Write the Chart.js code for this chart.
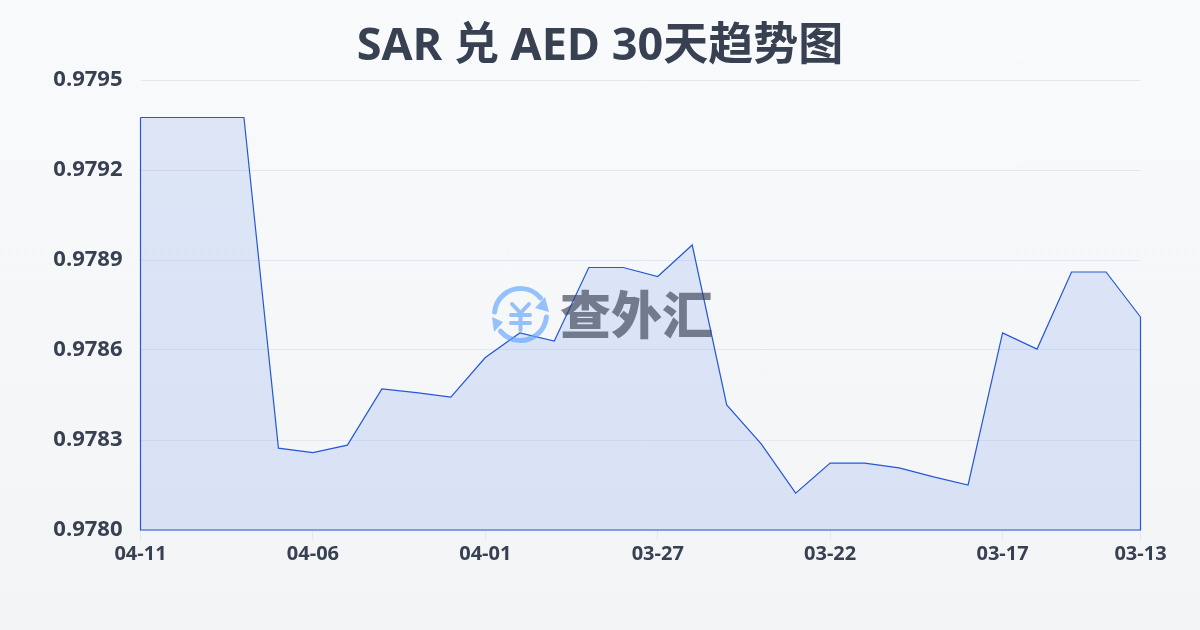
<!DOCTYPE html>
<html>
<head>
<meta charset="utf-8">
<style>
  html, body { margin: 0; padding: 0; }
  body { width: 1200px; height: 630px; background: linear-gradient(180deg, #f9fafb, #f3f4f6); overflow: hidden; }
  canvas { display: block; }
</style>
<script src="https://cdn.jsdelivr.net/npm/chart.js@4/dist/chart.umd.min.js"></script>
</head>
<body>
<canvas id="grafico" width="1200" height="630"></canvas>
<script>
const titulo = 'SAR 兑 AED 30天趋势图';
const marca = '查外汇';

const datas = ['04-11', '04-10', '04-09', '04-08', '04-07', '04-06', '04-05', '04-04', '04-03', '04-02',
  '04-01', '03-31', '03-30', '03-29', '03-28', '03-27', '03-26', '03-25', '03-24', '03-23',
  '03-22', '03-21', '03-20', '03-19', '03-18', '03-17', '03-16', '03-15', '03-14', '03-13'];
const taxas = [0.979375, 0.979375, 0.979375, 0.979375, 0.978273, 0.978258, 0.978283, 0.97847, 0.978458, 0.978443,
  0.978575, 0.978657, 0.97863, 0.978875, 0.978875, 0.978845, 0.97895, 0.978417, 0.978287, 0.978123,
  0.978223, 0.978223, 0.978207, 0.978177, 0.97815, 0.978657, 0.978603, 0.97886, 0.97886, 0.97871];
const rotulosX = ['04-11', '04-06', '04-01', '03-27', '03-22', '03-17', '03-13'];
const eixoMin = 0.978;
const eixoMax = 0.9795;
const eixoPasso = 0.0003;

const corTexto = '#374151';
const corLinha = '#2557d6';
const fonte = '"Open Sans", "Noto Sans CJK SC", sans-serif';

// fecha o contorno da area ate a base
const contorno = {
  id: 'contorno',
  afterDatasetsDraw(chart) {
    const pts = chart.getDatasetMeta(0).data;
    const base = chart.scales.y.getPixelForValue(eixoMin);
    const c = chart.ctx;
    c.save();
    c.strokeStyle = corLinha;
    c.lineWidth = 1.2;
    c.beginPath();
    c.moveTo(pts[0].x, pts[0].y);
    c.lineTo(pts[0].x, base);
    c.lineTo(pts[pts.length - 1].x, base);
    c.lineTo(pts[pts.length - 1].x, pts[pts.length - 1].y);
    c.stroke();
    c.restore();
  }
};

// logo + nome por cima, semi-transparente
const marcaDagua = {
  id: 'marcaDagua',
  afterDatasetsDraw(chart) {
    const c = chart.ctx;
    c.save();
    c.globalAlpha = 0.65;
    c.strokeStyle = '#60a5fa';
    c.fillStyle = '#60a5fa';
    c.lineCap = 'round';
    c.lineWidth = 5;
    const cx = 520.5, cy = 314.5, r = 26;
    c.beginPath(); c.arc(cx, cy, r, Math.PI * 1.03, Math.PI * 1.78); c.stroke();
    c.beginPath(); c.arc(cx, cy, r, Math.PI * 0.03, Math.PI * 0.78); c.stroke();
    c.beginPath(); c.moveTo(545, 297); c.lineTo(549, 312); c.lineTo(535, 308); c.closePath(); c.fill();
    c.beginPath(); c.moveTo(492, 317); c.lineTo(503, 322); c.lineTo(494, 332); c.closePath(); c.fill();
    c.lineWidth = 4;
    c.beginPath();
    c.moveTo(512, 304); c.lineTo(520.5, 313); c.lineTo(529, 304);
    c.moveTo(520.5, 313); c.lineTo(520.5, 330);
    c.moveTo(511, 315); c.lineTo(530, 315);
    c.moveTo(511, 323); c.lineTo(530, 323);
    c.stroke();
    c.fillStyle = '#3a4256';
    c.font = '900 51px "Noto Sans CJK SC"';
    c.textAlign = 'left';
    c.textBaseline = 'middle';
    c.fillText(marca, 560, 315);
    c.restore();
  }
};

new Chart(document.getElementById('grafico'), {
  type: 'line',
  data: {
    labels: datas,
    datasets: [{
      data: taxas,
      borderColor: corLinha,
      borderWidth: 1.2,
      backgroundColor: 'rgba(37, 99, 235, 0.13)',
      fill: 'start',
      tension: 0,
      pointRadius: 0
    }]
  },
  options: {
    responsive: false,
    animation: false,
    layout: { padding: 0 },
    plugins: {
      legend: { display: false },
      tooltip: { enabled: false },
      title: {
        display: true,
        text: titulo,
        color: corTexto,
        font: { family: fonte, size: 45, weight: 'bold', lineHeight: 1.2 },
        padding: { top: 20, bottom: 6 }
      }
    },
    scales: {
      x: {
        border: { display: false },
        grid: { drawOnChartArea: false, drawTicks: true, tickLength: 10, color: '#e2e8f0' },
        afterFit(s) { s.height = 100; },
        ticks: {
          color: corTexto,
          font: { family: fonte, size: 20, weight: 'bold' },
          autoSkip: false,
          maxRotation: 0,
          padding: 2,
          callback(v) { const d = datas[v]; return rotulosX.includes(d) ? d : null; }
        }
      },
      y: {
        min: eixoMin,
        max: eixoMax,
        border: { display: false },
        grid: { drawTicks: false, color: '#e2e8f0' },
        afterFit(s) { s.width = 140.5; },
        afterBuildTicks(s) {
          s.ticks = [0, 1, 2, 3, 4, 5].map(i => ({ value: eixoMin + i * eixoPasso }));
        },
        ticks: {
          color: corTexto,
          font: { family: fonte, size: 22, weight: 'bold' },
          padding: 18,
          callback(v) { return v.toFixed(4); }
        }
      },
      // so reserva a margem direita
      margem: {
        position: 'right',
        min: eixoMin,
        max: eixoMax,
        border: { display: false },
        grid: { display: false },
        ticks: { display: false },
        afterFit(s) { s.width = 59.5; }
      }
    }
  },
  plugins: [contorno, marcaDagua]
});
</script>
</body>
</html>
